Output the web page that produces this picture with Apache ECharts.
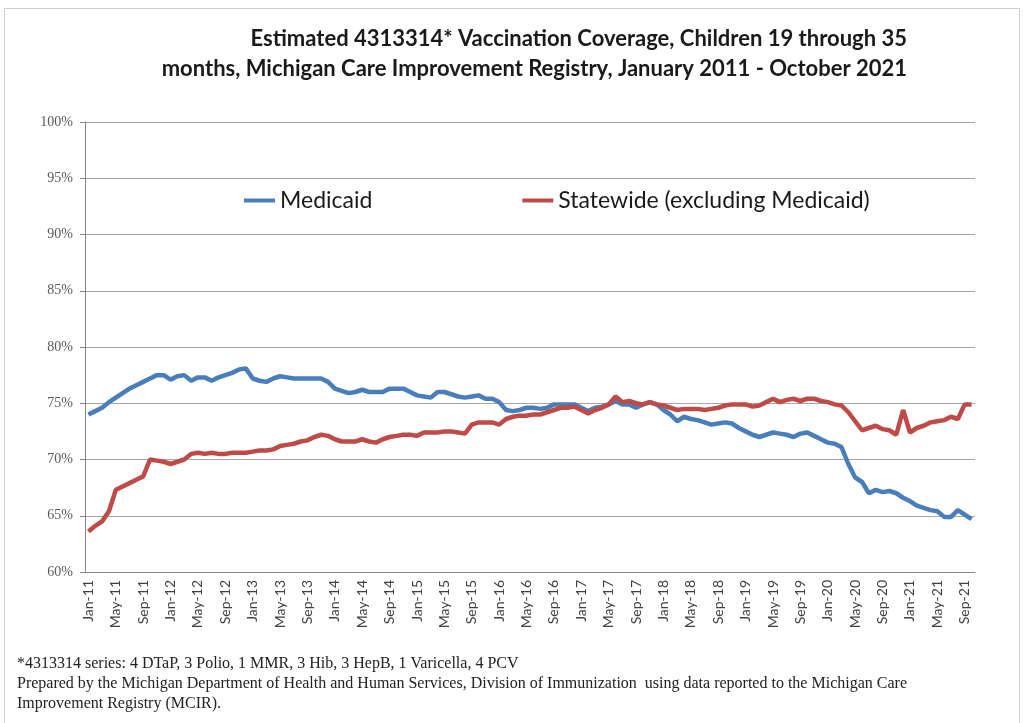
<!DOCTYPE html>
<html>
<head>
<meta charset="utf-8">
<script src="https://cdn.jsdelivr.net/npm/echarts@6/dist/echarts.min.js"></script>
<style>
  html, body { margin: 0; padding: 0; background: #ffffff; }
  #chart { width: 1025px; height: 723px; }
</style>
</head>
<body>
<div id="chart"></div>
<script>
// Month labels, January 2011 through October 2021
const monthNames = ['Jan','Feb','Mar','Apr','May','Jun','Jul','Aug','Sep','Oct','Nov','Dec'];
const years = [11,12,13,14,15,16,17,18,19,20,21];
const categories = [];
years.forEach(y => monthNames.forEach((m, k) => {
  if (y === 21 && k > 9) return;
  categories.push(m + '-' + y);
}));

// Estimated 4313314 coverage (%), Medicaid children
const medicaid = [
  74.0, 74.3, 74.6, 75.1, 75.5, 75.9, 76.3, 76.6, 76.9, 77.2, 77.5, 77.5,
  77.1, 77.4, 77.5, 77.0, 77.3, 77.3, 77.0, 77.3, 77.5, 77.7, 78.0, 78.1,
  77.2, 77.0, 76.9, 77.2, 77.4, 77.3, 77.2, 77.2, 77.2, 77.2, 77.2, 76.9,
  76.3, 76.1, 75.9, 76.0, 76.2, 76.0, 76.0, 76.0, 76.3, 76.3, 76.3, 76.0,
  75.7, 75.6, 75.5, 76.0, 76.0, 75.8, 75.6, 75.5, 75.6, 75.7, 75.4, 75.4,
  75.1, 74.4, 74.3, 74.4, 74.6, 74.6, 74.5, 74.6, 74.9, 74.9, 74.9, 74.9,
  74.6, 74.3, 74.6, 74.7, 74.9, 75.2, 74.9, 74.9, 74.6, 74.9, 75.1, 74.9,
  74.4, 74.0, 73.4, 73.8, 73.6, 73.5, 73.3, 73.1, 73.2, 73.3, 73.2, 72.8,
  72.5, 72.2, 72.0, 72.2, 72.4, 72.3, 72.2, 72.0, 72.3, 72.4, 72.1, 71.8,
  71.5, 71.4, 71.1, 69.6, 68.4, 68.0, 67.0, 67.3, 67.1, 67.2, 67.0, 66.6,
  66.3, 65.9, 65.7, 65.5, 65.4, 64.9, 64.9, 65.5, 65.1, 64.7
];

// Estimated 4313314 coverage (%), statewide excluding Medicaid
const statewide = [
  63.6, 64.1, 64.5, 65.4, 67.3, 67.6, 67.9, 68.2, 68.5, 70.0, 69.9, 69.8,
  69.6, 69.8, 70.0, 70.5, 70.6, 70.5, 70.6, 70.5, 70.5, 70.6, 70.6, 70.6,
  70.7, 70.8, 70.8, 70.9, 71.2, 71.3, 71.4, 71.6, 71.7, 72.0, 72.2, 72.1,
  71.8, 71.6, 71.6, 71.6, 71.8, 71.6, 71.5, 71.8, 72.0, 72.1, 72.2, 72.2,
  72.1, 72.4, 72.4, 72.4, 72.5, 72.5, 72.4, 72.3, 73.1, 73.3, 73.3, 73.3,
  73.1, 73.6, 73.8, 73.9, 73.9, 74.0, 74.0, 74.2, 74.4, 74.6, 74.6, 74.7,
  74.4, 74.1, 74.4, 74.6, 74.9, 75.6, 75.1, 75.2, 75.0, 74.9, 75.1, 74.9,
  74.8, 74.6, 74.4, 74.5, 74.5, 74.5, 74.4, 74.5, 74.6, 74.8, 74.9, 74.9,
  74.9, 74.7, 74.8, 75.1, 75.4, 75.1, 75.3, 75.4, 75.2, 75.4, 75.4, 75.2,
  75.1, 74.9, 74.8, 74.2, 73.4, 72.6, 72.8, 73.0, 72.7, 72.6, 72.2, 74.4,
  72.4, 72.8, 73.0, 73.3, 73.4, 73.5, 73.8, 73.6, 74.9, 74.9
];

const yTicks = [60, 65, 70, 75, 80, 85, 90, 95, 100];

const titleLines = [
  'Estimated 4313314* Vaccination Coverage, Children 19 through 35',
  'months, Michigan Care Improvement Registry, January 2011 - October 2021'
];
const footnoteLines = [
  '*4313314 series: 4 DTaP, 3 Polio, 1 MMR, 3 Hib, 3 HepB, 1 Varicella, 4 PCV',
  'Prepared by the Michigan Department of Health and Human Services, Division of Immunization  using data reported to the Michigan Care',
  'Improvement Registry (MCIR).'
];

const chart = echarts.init(document.getElementById('chart'), null, { renderer: 'canvas' });

const sansFont = 'Lato, "Open Sans", sans-serif';
const serifFont = '"Liberation Serif", "DejaVu Serif", serif';

chart.setOption({
  backgroundColor: '#ffffff',
  animation: false,
  title: titleLines.map((t, k) => ({
    text: t,
    right: 113,
    top: 23 + k * 30,
    textStyle: { fontFamily: sansFont, fontWeight: 'bold', fontSize: 22, color: '#1a1a1a' }
  })),
  legend: {
    left: 239,
    top: 184,
    itemGap: 150,
    itemWidth: 31,
    itemHeight: 4,
    icon: 'rect',
    textStyle: { fontFamily: sansFont, fontSize: 23, color: '#1a1a1a' },
    data: ['Medicaid', 'Statewide (excluding Medicaid)']
  },
  grid: { left: 85, right: 50, top: 122, bottom: 151 },
  xAxis: {
    type: 'category',
    data: categories,
    boundaryGap: true,
    axisLine: { lineStyle: { color: '#868686', width: 1 } },
    axisTick: { interval: 3, length: 5, lineStyle: { color: '#868686' } },
    axisLabel: {
      interval: 3,
      rotate: 90,
      margin: 8,
      fontFamily: sansFont,
      fontSize: 14,
      color: '#404040'
    },
    splitLine: { show: false }
  },
  yAxis: {
    type: 'value',
    min: yTicks[0],
    max: yTicks[yTicks.length - 1],
    interval: 5,
    axisLine: { show: true, lineStyle: { color: '#868686', width: 1 } },
    axisTick: { show: true, length: 5, lineStyle: { color: '#868686' } },
    axisLabel: {
      margin: 12,
      fontFamily: serifFont,
      fontSize: 14,
      color: '#595959',
      formatter: v => v + '%'
    },
    splitLine: { lineStyle: { color: '#a6a6a6', width: 1 } }
  },
  series: [
    {
      name: 'Medicaid',
      type: 'line',
      data: medicaid,
      showSymbol: false,
      symbol: 'none',
      lineStyle: { color: '#4a7ebb', width: 4.5 },
      itemStyle: { color: '#4a7ebb' },
      z: 3
    },
    {
      name: 'Statewide (excluding Medicaid)',
      type: 'line',
      data: statewide,
      showSymbol: false,
      symbol: 'none',
      lineStyle: { color: '#be4b48', width: 4.5 },
      itemStyle: { color: '#be4b48' },
      z: 4
    }
  ],
  graphic: [
    {
      type: 'rect',
      silent: true,
      shape: { x: 4.5, y: 8.5, width: 1015, height: 730 },
      style: { fill: 'none', stroke: '#d0d0d0', lineWidth: 1 }
    }
  ].concat(footnoteLines.map((t, k) => ({
    type: 'text',
    left: 17,
    top: 656 + k * 20,
    silent: true,
    style: { text: t, fontFamily: serifFont, fontSize: 16, fill: '#222222' }
  })))
});
</script>
</body>
</html>
